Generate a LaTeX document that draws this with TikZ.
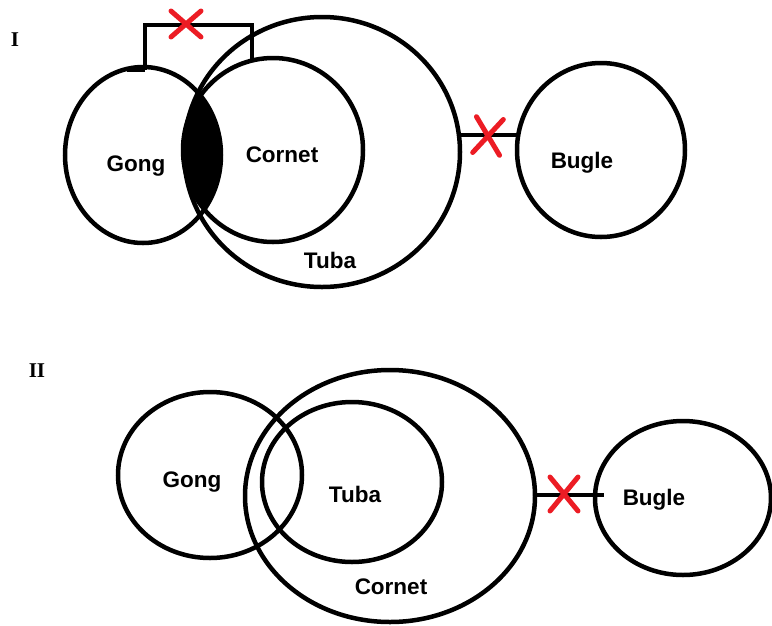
\documentclass[tikz,border=0pt]{standalone}
\usepackage{fontspec}
\setmainfont{Liberation Sans}
\newfontfamily\romfont{Liberation Serif}
\usetikzlibrary{shapes.geometric,shapes.misc}
\definecolor{xred}{HTML}{EC1C24}
\tikzset{
  set/.style={ellipse,draw,line width=4.5pt,inner sep=0pt,outer sep=0pt},
  lbl/.style={font=\fontsize{22.5}{26}\selectfont\bfseries,inner sep=0pt},
  roman/.style={font=\romfont\fontsize{21}{24}\selectfont\bfseries,inner sep=0pt},
  conn/.style={line width=4.2pt},
  redx/.style={cross out,draw=xred,line width=5pt,line cap=round,inner sep=0pt,outer sep=0pt}
}
\begin{document}
\begin{tikzpicture}[x=1pt,y=-1pt]
\useasboundingbox (0,0) rectangle (772,625);
% ---------- I ----------
\node[roman] (labI) at (15,40) {I};
\begin{scope}
  \clip (143,155) ellipse [x radius=78,y radius=88];
  \fill (273,150) ellipse [x radius=90,y radius=92];
\end{scope}
\node[set,minimum width=156pt,minimum height=176pt] (gongI) at (143,155) {};
\node[set,minimum width=180pt,minimum height=184pt] (cornetI) at (273,150) {};
\node[set,minimum width=276pt,minimum height=270pt] (tubaI) at (322,152) {};
\node[set,minimum width=168pt,minimum height=174pt] (bugleI) at (601,150) {};
\node[lbl] (tGongI) at (136,166) {Gong};
\node[lbl] (tCornetI) at (282,155) {Cornet};
\node[lbl] (tTubaI) at (330,260) {Tuba};
\node[lbl] (tBugleI) at (582,163) {Bugle};
% bracket Gong -- Cornet
\coordinate (bL) at (145,25);
\coordinate (bR) at (252,25);
\coordinate (cTop) at (252,62);
\coordinate (gTop) at (145,70);
\coordinate (tickL) at (127,70);
\draw[conn] (gTop) -- (bL) -- (bR) -- (cTop);
\draw[conn] (tickL) -- (gTop);
\node[redx,minimum width=30pt,minimum height=26pt] (x1) at (186,24) {};
% Tuba -- Bugle
\coordinate (tbA) at (460,135);
\coordinate (tbB) at (518,135);
\draw[conn] (tbA) -- (tbB);
\node[redx,minimum width=27pt,minimum height=36pt,rotate=-6] (x2) at (488,136) {};
% ---------- II ----------
\node[roman] (labII) at (37,371) {II};
\node[set,minimum width=184pt,minimum height=166pt] (gongII) at (210,475) {};
\node[set,minimum width=180pt,minimum height=160pt] (tubaII) at (352,482) {};
\node[set,minimum width=290pt,minimum height=252pt] (cornetII) at (390,496) {};
\node[set,minimum width=176pt,minimum height=154pt] (bugleII) at (683,498) {};
\node[lbl] (tGongII) at (192,482) {Gong};
\node[lbl] (tTubaII) at (355,494) {Tuba};
\node[lbl] (tCornetII) at (391,587) {Cornet};
\node[lbl] (tBugleII) at (654,500) {Bugle};
\coordinate (cbA) at (535,495);
\coordinate (cbB) at (604,495);
\draw[conn] (cbA) -- (cbB);
\node[redx,minimum width=28pt,minimum height=34pt] (x3) at (564,494) {};
\end{tikzpicture}
\end{document}
